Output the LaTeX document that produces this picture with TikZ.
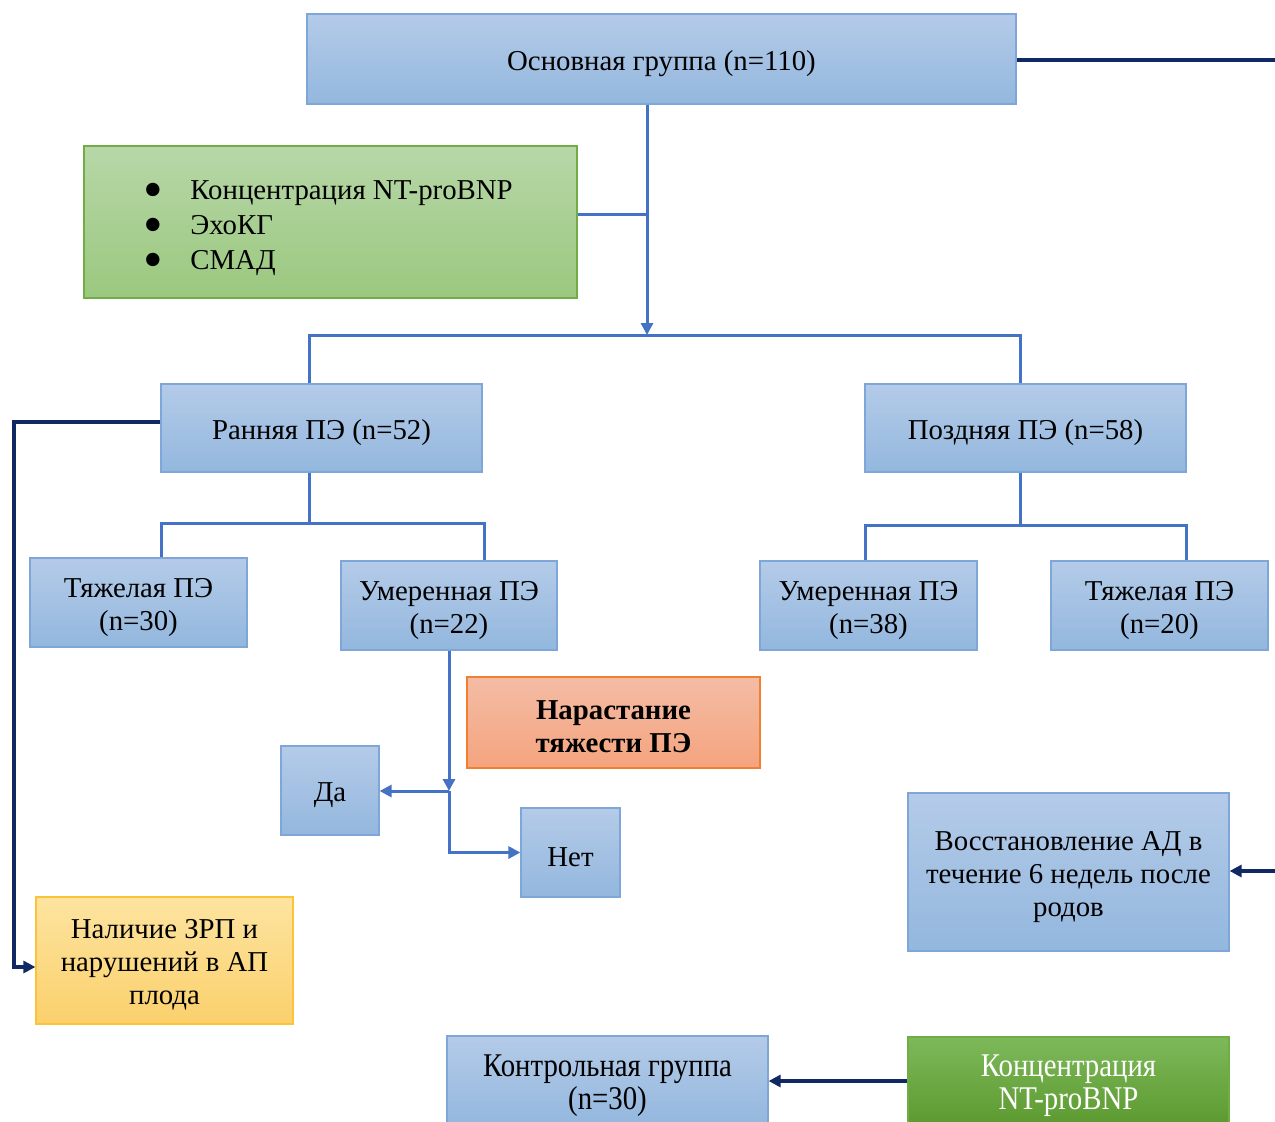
\documentclass[tikz,border=0pt]{standalone}
\usepackage{fontspec}
\setmainfont{Liberation Serif}
\usepackage{graphicx}
\usetikzlibrary{arrows.meta}
\definecolor{bxtop}{RGB}{180,203,232}
\definecolor{bxbot}{RGB}{147,183,222}
\definecolor{bxbord}{RGB}{126,166,216}
\definecolor{grtop}{RGB}{183,215,168}
\definecolor{grbot}{RGB}{155,200,127}
\definecolor{grbord}{RGB}{112,173,71}
\definecolor{ortop}{RGB}{244,188,165}
\definecolor{orbot}{RGB}{244,164,126}
\definecolor{orbord}{RGB}{240,128,48}
\definecolor{yetop}{RGB}{253,228,160}
\definecolor{yebot}{RGB}{251,208,108}
\definecolor{yebord}{RGB}{252,194,58}
\definecolor{dgtop}{RGB}{125,185,90}
\definecolor{dgbot}{RGB}{92,154,48}
\definecolor{conblue}{RGB}{68,114,196}
\definecolor{navy}{RGB}{16,40,100}
\tikzset{
  box/.style={draw=bxbord, line width=0.6pt, top color=bxtop, bottom color=bxbot, inner sep=0pt},
  txt/.style={align=center, inner sep=0pt, yshift=-2.3pt, font=\fontsize{14.4pt}{16.5pt}\selectfont},
  tx/.style={label={[txt]center:{#1}}},
  btx/.style={label={[txt, font=\fontsize{14.4pt}{16.5pt}\selectfont\bfseries]center:{#1}}},
  wtx/.style={label={[txt, text=white]center:{#1}}},
  greenbox/.style={box, draw=grbord, top color=grtop, bottom color=grbot},
  orbox/.style={box, draw=orbord, top color=ortop, bottom color=orbot},
  yebox/.style={box, draw=yebord, top color=yetop, bottom color=yebot},
  dgbox/.style={box, draw=grbord, top color=dgtop, bottom color=dgbot},
  bl/.style={draw=conblue, line width=1.5pt},
  nv/.style={draw=navy, line width=1.7pt},
  tip/.style={-{Triangle[length=6pt,width=6pt]}},
}
\newcommand{\stretchtx}[1]{\scalebox{1}[1.15]{#1}}
\newcommand{\bigbul}{\makebox[18.5pt][l]{\makebox[0pt]{\smash{\raisebox{-4.5pt}{\fontsize{28pt}{28pt}\selectfont\textbullet}}}}}
\begin{document}
\begin{tikzpicture}[x=0.5pt,y=-0.5pt]
\useasboundingbox (0,0) rectangle (1275,1121);
% boxes
\node[box, minimum width=354.5pt, minimum height=45pt, tx={Основная группа (n=110)}] (main) at (661.5,59) {};
\node[greenbox, minimum width=246.5pt, minimum height=76pt] (green) at (330.5,222) {};
\node[anchor=west, inner sep=0pt, font=\fontsize{14.4pt}{17.5pt}\selectfont] (list) at (153,227)
  {\begin{tabular}{@{}l@{}l@{}}
   \bigbul & Концентрация NT-proBNP\\
   \bigbul & ЭхоКГ\\
   \bigbul & СМАД
   \end{tabular}};
\node[box, minimum width=160.5pt, minimum height=44pt, tx={Ранняя ПЭ (n=52)}] (early) at (321.5,428) {};
\node[box, minimum width=160.5pt, minimum height=44pt, tx={Поздняя ПЭ (n=58)}] (late) at (1025.5,428) {};
\node[box, minimum width=108.5pt, minimum height=44.5pt, tx={Тяжелая ПЭ\\(n=30)}] (sev30) at (138.5,602.5) {};
\node[box, minimum width=108pt, minimum height=44.5pt, tx={Умеренная ПЭ\\(n=22)}] (mod22) at (449,605.5) {};
\node[box, minimum width=108.5pt, minimum height=44.5pt, tx={Умеренная ПЭ\\(n=38)}] (mod38) at (868.5,605.5) {};
\node[box, minimum width=108.5pt, minimum height=44.5pt, tx={Тяжелая ПЭ\\(n=20)}] (sev20) at (1159.5,605.5) {};
\node[orbox, minimum width=146.5pt, minimum height=45.5pt, btx={Нарастание\\тяжести ПЭ}] (grow) at (613.5,722.5) {};
\node[box, minimum width=49pt, minimum height=44.5pt, tx={Да}] (yes) at (330,790.5) {};
\node[box, minimum width=49.5pt, minimum height=44.5pt, tx={Нет}] (no) at (570.5,852.5) {};
\node[yebox, minimum width=128.5pt, minimum height=63.5pt, tx={Наличие ЗРП и\\нарушений в АП\\плода}] (yellow) at (164.5,960.5) {};
\node[box, minimum width=160.5pt, minimum height=79pt, tx={Восстановление АД в\\течение 6 недель после\\родов}] (restore) at (1068.5,872) {};
\node[box, minimum width=160.5pt, minimum height=45pt, tx={\stretchtx{Контрольная группа}\\\stretchtx{(n=30)}}] (control) at (607.5,1081) {};
\node[dgbox, minimum width=160.5pt, minimum height=44pt, wtx={\stretchtx{Концентрация}\\\stretchtx{NT-proBNP}}] (nt) at (1068.5,1081) {};
% coordinates
\coordinate (j1) at (647,335);
\coordinate (split) at (449,791);
\coordinate (rightA) at (1275,60);
\coordinate (rightB) at (1275,871);
\coordinate (leftC) at (14,422);
% blue connectors
\draw[bl, tip] (main.south -| j1) -- (j1);
\draw[bl] (green.east |- 0,214) -- (647,214);
\draw[bl] (309,0 |- early.north) -- (309,335) -- (1020,335) -- (1020,0 |- late.north);
\draw[bl] (309,0 |- early.south) -- (309,523);
\draw[bl] (161,0 |- sev30.north) -- (161,523) -- (484,523) -- (484,0 |- mod22.north);
\draw[bl] (1020,0 |- late.south) -- (1020,525);
\draw[bl] (865,0 |- mod38.north) -- (865,525) -- (1186,525) -- (1186,0 |- sev20.north);
\draw[bl, tip] (mod22.south) -- (split);
\draw[bl, tip] (split) -- (yes.east |- split);
\draw[bl, tip] (split) |- (no.west);
% navy connectors
\draw[nv] (main.east |- rightA) -- (rightA);
\draw[nv, tip] (early.west |- leftC) -- (leftC) |- (yellow.west |- 0,967);
\draw[nv, tip] (rightB) -- (restore.east |- rightB);
\draw[nv, tip] (nt.west) -- (control.east);
\end{tikzpicture}
\end{document}
